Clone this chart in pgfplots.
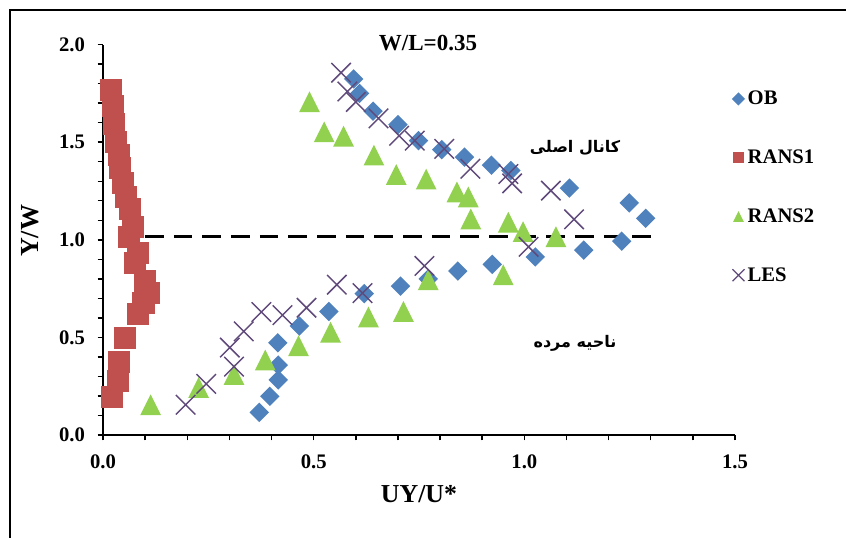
\documentclass[border=0pt]{standalone}
\usepackage{fontspec}
\setmainfont{Liberation Serif}
\newfontfamily\fa[Script=Arabic]{DejaVu Sans}
\usepackage{pgfplots}
\pgfplotsset{compat=1.18}
\TeXXeTstate=1
\definecolor{obc}{HTML}{4F81BD}
\definecolor{r1c}{HTML}{C0504D}
\definecolor{r2c}{HTML}{92D050}
\definecolor{lesc}{HTML}{604A7B}
\pgfdeclareplotmark{dia}{\pgfpathmoveto{\pgfqpoint{0pt}{\pgfplotmarksize}}\pgfpathlineto{\pgfqpoint{\pgfplotmarksize}{0pt}}\pgfpathlineto{\pgfqpoint{0pt}{-\pgfplotmarksize}}\pgfpathlineto{\pgfqpoint{-\pgfplotmarksize}{0pt}}\pgfpathclose\pgfusepathqfill}
\pgfdeclareplotmark{tri}{\pgfpathmoveto{\pgfqpoint{0pt}{\pgfplotmarksize}}\pgfpathlineto{\pgfqpoint{\pgfplotmarksize}{-\pgfplotmarksize}}\pgfpathlineto{\pgfqpoint{-\pgfplotmarksize}{-\pgfplotmarksize}}\pgfpathclose\pgfusepathqfill}
\pgfdeclareplotmark{sq}{\pgfpathrectangle{\pgfqpoint{-\pgfplotmarksize}{-\pgfplotmarksize}}{\pgfqpoint{2\pgfplotmarksize}{2\pgfplotmarksize}}\pgfusepathqfill}
\pgfdeclareplotmark{crs}{\pgfpathmoveto{\pgfqpoint{-\pgfplotmarksize}{-\pgfplotmarksize}}\pgfpathlineto{\pgfqpoint{\pgfplotmarksize}{\pgfplotmarksize}}\pgfpathmoveto{\pgfqpoint{-\pgfplotmarksize}{\pgfplotmarksize}}\pgfpathlineto{\pgfqpoint{\pgfplotmarksize}{-\pgfplotmarksize}}\pgfusepathqstroke}

\pgfplotstableread{
x y
0.371 0.116
0.396 0.198
0.416 0.282
0.416 0.358
0.415 0.472
0.466 0.558
0.536 0.633
0.620 0.724
0.706 0.763
0.772 0.800
0.842 0.840
0.924 0.874
1.026 0.912
1.141 0.947
1.231 0.993
1.288 1.110
1.249 1.189
1.107 1.265
0.968 1.355
0.922 1.382
0.858 1.423
0.804 1.462
0.749 1.508
0.700 1.590
0.641 1.659
0.609 1.750
0.595 1.824
}\ob
\pgfplotstableread{
x y
0.018 1.767
0.024 1.684
0.026 1.592
0.031 1.503
0.038 1.434
0.040 1.370
0.047 1.293
0.055 1.221
0.064 1.158
0.072 1.067
0.062 1.016
0.084 0.931
0.076 0.880
0.100 0.791
0.108 0.726
0.096 0.675
0.083 0.620
0.052 0.499
0.038 0.376
0.036 0.278
0.021 0.193
}\ransone
\pgfplotstableread{
x y
0.113 0.155
0.227 0.243
0.311 0.310
0.385 0.384
0.464 0.457
0.540 0.527
0.630 0.605
0.713 0.633
0.772 0.795
0.950 0.821
1.075 1.016
0.997 1.042
0.962 1.090
0.873 1.107
0.867 1.220
0.840 1.245
0.767 1.311
0.696 1.335
0.643 1.434
0.571 1.531
0.525 1.553
0.490 1.707
}\ranstwo
\pgfplotstableread{
x y
0.196 0.155
0.245 0.262
0.311 0.350
0.301 0.448
0.334 0.531
0.376 0.630
0.426 0.614
0.483 0.652
0.555 0.770
0.616 0.727
0.763 0.866
1.010 0.964
1.118 1.105
1.063 1.252
0.971 1.289
0.962 1.337
0.872 1.364
0.810 1.466
0.740 1.508
0.703 1.533
0.654 1.622
0.600 1.706
0.580 1.760
0.565 1.856
}\les

\begin{document}
\begin{tikzpicture}
\useasboundingbox (-77.25pt,-77.25pt) rectangle (557.25pt,326.25pt);
\draw[line width=1pt] (-69.75pt,-80pt) -- (-69.75pt,318.75pt) -- (560pt,318.75pt);
\begin{axis}[
  at={(0pt,0pt)}, anchor=south west,
  scale only axis, width=474pt, height=292.8pt,
  xmin=0, xmax=1.5, ymin=0, ymax=2,
  axis x line*=bottom, axis y line*=left,
  axis line style={line width=1.1pt, black},
  xtick={0,0.5,1,1.5}, ytick={0,0.5,1,1.5,2},
  minor tick num=4, tick align=outside,
  major tick length=4pt, minor tick length=4pt,
  every tick/.style={black, line width=1.1pt},
  tick label style={font=\bfseries\fontsize{15.5}{15.5}\selectfont},
  xticklabel style={yshift=-7.5pt},
  yticklabel style={xshift=-6pt},
  /pgf/number format/.cd, fixed, fixed zerofill, precision=1, assume math mode=true,
  /pgfplots/.cd,
  clip=false,
  legend cell align=left,
  legend image code/.code={\draw[#1] plot coordinates {(0pt,0pt)};},
  legend style={draw=none, fill=none, at={(1,0.635)}, anchor=west, xshift=-5.5pt,
    font=\bfseries\fontsize{15.5}{15.5}\selectfont, row sep=28.3pt},
]
\addplot[forget plot, only marks, mark=dia, mark size=7.3pt, color=obc] table {\ob};
\addplot[forget plot, only marks, mark=sq, mark size=8.3pt, color=r1c] table {\ransone};
\addplot[forget plot, only marks, mark=tri, mark size=7.8pt, color=r2c] table {\ranstwo};
\addplot[forget plot, only marks, mark=crs, mark size=7.3pt, color=lesc, mark options={line width=1.1pt}] table {\les};
\addplot[forget plot, black, line width=2.2pt, dash pattern=on 14pt off 7.5pt] coordinates {(0.10,1.015) (1.30,1.015)};
\addlegendimage{only marks, mark=dia, mark size=4.9pt, color=obc}
\addlegendentry{OB}
\addlegendimage{only marks, mark=sq, mark size=4.1pt, color=r1c}
\addlegendentry{RANS1}
\addlegendimage{only marks, mark=tri, mark size=4pt, color=r2c}
\addlegendentry{RANS2}
\addlegendimage{only marks, mark=crs, mark size=4.5pt, color=lesc, mark options={line width=0.9pt}}
\addlegendentry{LES}
\end{axis}
\node[font=\bfseries\fontsize{17.25}{17.25}\selectfont] at (243.75pt,294pt) {W/L=0.35};
\node[font=\bfseries\fontsize{19.4}{19.4}\selectfont] at (237pt,-44.25pt) {UY/U*};
\node[rotate=90, font=\bfseries\fontsize{19.5}{19.5}\selectfont] at (-54.75pt,153pt) {Y/W};
\node[font=\fa\bfseries\fontsize{12}{12}\selectfont] at (354pt,215pt) {\beginR کانال اصلی\endR};
\node[font=\fa\bfseries\fontsize{12}{12}\selectfont] at (354pt,69pt) {\beginR ناحیه مرده\endR};
\end{tikzpicture}
\end{document}
